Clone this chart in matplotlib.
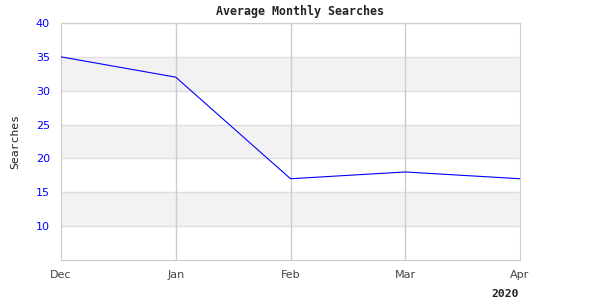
import matplotlib
matplotlib.use("Agg")
import matplotlib.pyplot as plt

months = ["Dec", "Jan", "Feb", "Mar", "Apr"]
searches = [35, 32, 17, 18, 17]
y_ticks = [10, 15, 20, 25, 30, 35, 40]
bands = [(10, 15), (20, 25), (30, 35)]
year_label = "2020"

fig = plt.figure(figsize=(6, 3), dpi=100)
ax = fig.add_axes([61 / 600, 40 / 300, 459 / 600, 237 / 300])

x = list(range(len(months)))
for lo, hi in bands:
    ax.axhspan(lo, hi, color="#f2f2f2", zorder=0, lw=0)
for t in y_ticks:
    ax.axhline(t, color="#dedede", lw=1, zorder=1)
for xi in x[1:-1]:
    ax.axvline(xi, color="#cccccc", lw=1, zorder=1)

ax.plot(x, searches, color="#0000ff", lw=0.8, zorder=3)

ax.set_xlim(0, len(months) - 1)
ax.set_ylim(5, 40)
ax.set_xticks(x)
ax.set_xticklabels(months)
ax.set_yticks(y_ticks)
ax.tick_params(axis="both", length=0)
ax.tick_params(axis="y", colors="#0000ff", labelsize=8, pad=8)
ax.tick_params(axis="x", colors="#444444", labelsize=8, pad=7)
for s in ax.spines.values():
    s.set_color("#cccccc")

ax.set_ylabel("Searches", family="DejaVu Sans Mono", fontsize=8.2, color="#222222", labelpad=11)
fig.text(0.5, 0.96, "Average Monthly Searches", ha="center", va="center",
         family="DejaVu Sans Mono", fontweight="bold", fontsize=8.4, color="#222222")
fig.text(505 / 600, 1 - 294 / 300, year_label, ha="center", va="center",
         family="DejaVu Sans Mono", fontweight="bold", fontsize=8.2, color="#222222")

fig.savefig("out.png", dpi=100)
